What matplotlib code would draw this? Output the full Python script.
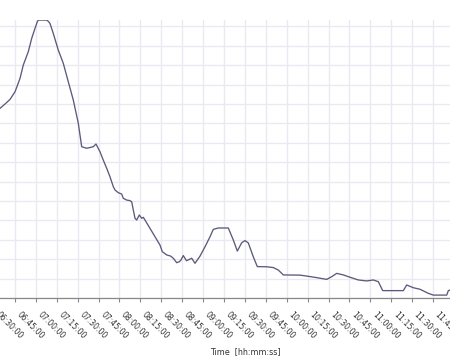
import matplotlib
matplotlib.use("Agg")
import matplotlib.pyplot as plt
import pandas as pd

# sample times and values
times = ["06:34:14", "06:37:49", "06:41:25", "06:45:00", "06:46:13", "06:48:35", "06:50:57",
         "06:54:33", "06:57:00", "06:59:21", "07:01:00", "07:01:43", "07:07:45", "07:08:41",
         "07:10:07", "07:12:29", "07:16:05", "07:19:40", "07:23:15", "07:26:50", "07:30:26",
         "07:32:52", "07:36:27", "07:41:12", "07:43:08", "07:46:00", "07:48:22", "07:50:48",
         "07:53:11", "07:55:33", "07:56:46", "07:59:08", "08:01:35", "08:02:43", "08:05:10",
         "08:07:32", "08:08:45", "08:11:07", "08:12:20", "08:14:12", "08:15:55", "08:17:05",
         "08:18:18", "08:21:53", "08:25:29", "08:29:04", "08:30:43", "08:33:52", "08:36:45",
         "08:38:37", "08:41:03", "08:42:55", "08:44:08", "08:45:47", "08:48:05", "08:51:49",
         "08:54:11", "08:57:47", "09:01:22", "09:04:58", "09:07:20", "09:10:55", "09:18:06",
         "09:21:41", "09:24:34", "09:27:42", "09:30:05", "09:32:26", "09:36:00", "09:38:54",
         "09:45:39", "09:50:23", "09:54:00", "09:57:34", "10:09:33", "10:14:22", "10:21:32",
         "10:28:43", "10:32:18", "10:35:53", "10:40:37", "10:45:25", "10:51:24", "10:57:25",
         "11:02:10", "11:05:45", "11:08:54", "11:23:41", "11:26:07", "11:30:53", "11:35:41",
         "11:41:38", "11:45:13", "11:54:50", "11:56:00", "11:57:13", "12:00:00"]
values = [9.78, 10.00, 10.24, 10.63, 10.86, 11.32, 12.01,
          12.70, 13.39, 13.90, 14.24, 14.33, 14.33, 14.28,
          14.16, 13.64, 12.78, 12.10, 11.15, 10.21, 9.01,
          7.80, 7.72, 7.80, 7.94, 7.54, 7.11, 6.69,
          6.25, 5.74, 5.57, 5.43, 5.36, 5.14, 5.05,
          5.02, 4.96, 4.11, 4.02, 4.28, 4.11, 4.16,
          4.02, 3.59, 3.16, 2.73, 2.39, 2.22, 2.16,
          2.05, 1.82, 1.87, 1.96, 2.19, 1.92, 2.05,
          1.79, 2.16, 2.64, 3.16, 3.54, 3.61, 3.61,
          2.99, 2.42, 2.85, 2.96, 2.84, 2.13, 1.62,
          1.61, 1.57, 1.44, 1.19, 1.18, 1.13, 1.05,
          0.96, 1.10, 1.27, 1.19, 1.07, 0.93, 0.88,
          0.93, 0.84, 0.38, 0.38, 0.67, 0.53, 0.45,
          0.24, 0.15, 0.15, 0.38, 0.41, 0.41]

tick_labels = ["06:30:00", "06:45:00", "07:00:00", "07:15:00", "07:30:00", "07:45:00",
               "08:00:00", "08:15:00", "08:30:00", "08:45:00", "09:00:00", "09:15:00",
               "09:30:00", "09:45:00", "10:00:00", "10:15:00", "10:30:00", "10:45:00",
               "11:00:00", "11:15:00", "11:30:00", "11:45:00", "12:00:00"]


def to_minutes(s):
    td = pd.to_timedelta(s)
    return td.total_seconds() / 60.0


x = [to_minutes(t) for t in times]
xticks = [to_minutes(t) for t in tick_labels]

fig = plt.figure(figsize=(4.5, 3.6), dpi=100)
# the plot area runs a bit past the figure edges (the reference is a crop)
ax = fig.add_axes([-10 / 450, 62 / 360, 470 / 450, (298 - 19.5) / 360])

grid_col = "#ebe8f1"
ax.plot(x, values, color="#5a5a7c", linewidth=0.95, zorder=3)

ax.set_xlim(to_minutes("06:27:04"), to_minutes("12:04:22"))
ax.set_ylim(0, 14.36)
ax.set_yticks(range(0, 15))
ax.set_xticks(xticks)
ax.set_xticklabels(tick_labels, rotation=-45, ha="left", va="top",
                   fontsize=5.6, color="#333333")
ax.grid(True, color=grid_col, linewidth=1.0, zorder=0)
ax.tick_params(axis="y", left=False, labelleft=False)
ax.tick_params(axis="x", direction="out", length=3, width=0.8, color="#888888", pad=6)
for side in ["top", "left", "right"]:
    ax.spines[side].set_visible(False)
ax.spines["bottom"].set_color("#888888")
ax.spines["bottom"].set_linewidth(0.9)

fig.text(245.5 / 450, 1 - 352 / 360, "Time  [hh:mm:ss]", ha="center", va="center",
         fontsize=5.8, color="#333333")

fig.savefig("out.png", dpi=100)
